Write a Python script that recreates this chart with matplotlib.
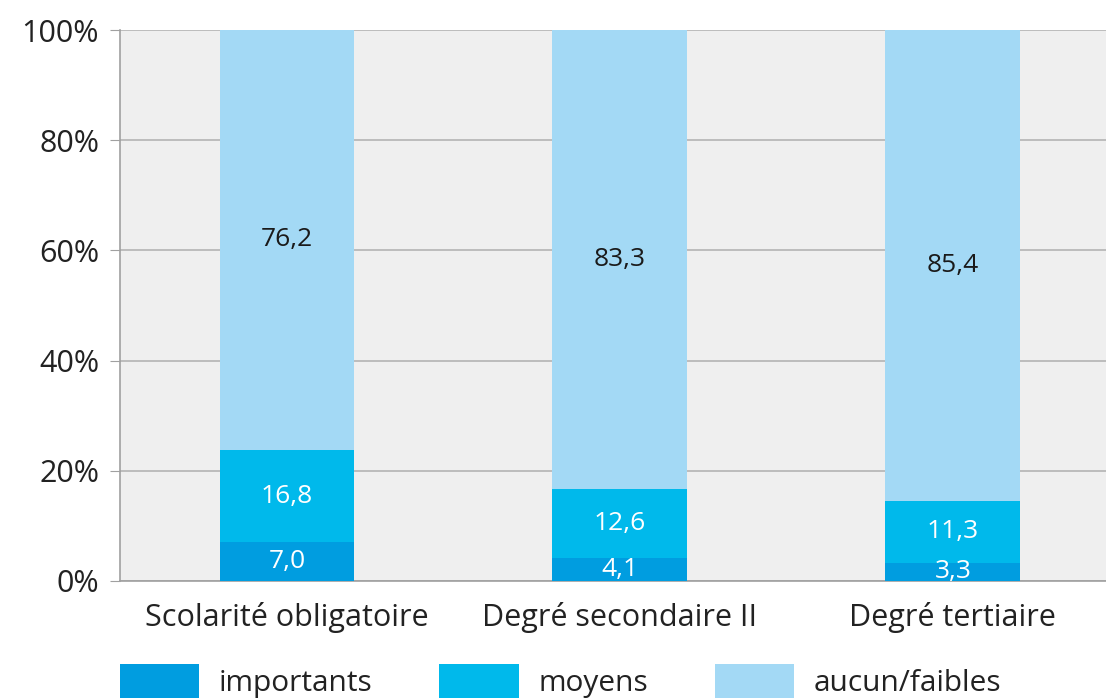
import numpy as np
import matplotlib
matplotlib.use("Agg")
import matplotlib.pyplot as plt

# data
categories = ["Scolarité obligatoire", "Degré secondaire II", "Degré tertiaire"]
importants = [7.0, 4.1, 3.3]
moyens = [16.8, 12.6, 11.3]
aucun = [76.2, 83.3, 85.4]
series_names = ["importants", "moyens", "aucun/faibles"]
colors = ["#009de0", "#00b9eb", "#a3d9f5"]
text_colors = ["white", "white", "#1a1a1a"]

plt.rcParams["font.family"] = ["Open Sans", "DejaVu Sans"]

fig = plt.figure(figsize=(11.06, 6.99), dpi=100)
ax = fig.add_axes([120 / 1106, 1 - 581 / 699, 986 / 1106, 551 / 699])
ax.set_facecolor("#efefef")

x = np.arange(len(categories))
bottom = np.zeros(len(categories))
for vals, name, col, tc in zip([importants, moyens, aucun], series_names, colors, text_colors):
    vals = np.array(vals)
    ax.bar(x, vals, 0.405, bottom=bottom, color=col, label=name, zorder=3)
    for xi, b, v in zip(x, bottom, vals):
        ax.text(xi, b + v / 2, f"{v:.1f}".replace(".", ","), ha="center", va="center",
                color=tc, fontsize=19, zorder=4)
    bottom += vals

ax.set_xlim(-0.5015, 2.46)
ax.set_ylim(0, 100)
ax.set_yticks(range(0, 101, 20))
ax.set_yticklabels([f"{v}%" for v in range(0, 101, 20)])
ax.set_xticks(x)
ax.set_xticklabels(categories)
ax.grid(axis="y", color="#b4b4b4", linewidth=1.2, zorder=1)
ax.tick_params(axis="y", length=7, color="#a0a0a0", labelsize=22, labelcolor="#222222", pad=8)
ax.tick_params(axis="x", length=0, labelsize=22, labelcolor="#222222", pad=15)
for s in ["top", "right"]:
    ax.spines[s].set_visible(False)
ax.spines["left"].set_color("#a0a0a0")
ax.spines["bottom"].set_color("#a0a0a0")
ax.spines["left"].set_linewidth(1.2)
ax.spines["bottom"].set_linewidth(1.2)

fig.legend(loc="upper left", bbox_to_anchor=(120 / 1106, 1 - 664 / 699), ncol=3, frameon=False,
           fontsize=21.5, handlelength=2.65, handleheight=1.4, handletextpad=0.65,
           columnspacing=2.25, borderpad=0, borderaxespad=0, labelcolor="#222222")

fig.savefig("out.png", dpi=100)
